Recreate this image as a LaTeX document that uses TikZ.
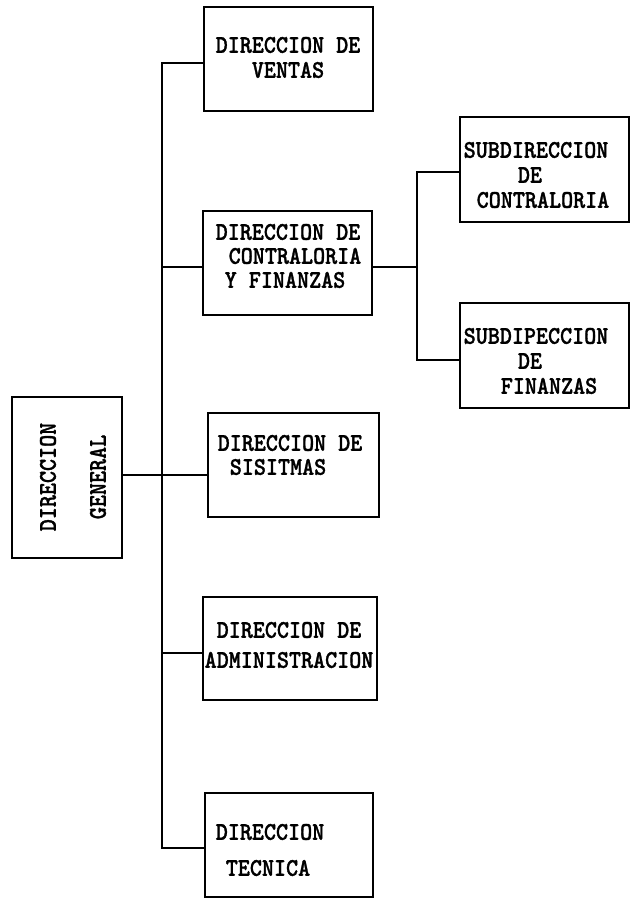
\documentclass[tikz,border=0pt]{standalone}
\usepackage{fontspec}
\newfontfamily\typefont[FakeStretch=0.9,FakeBold=1.2]{lmmonolt10-bold.otf}
\begin{document}
\begin{tikzpicture}[x=1pt,y=-1pt,
  box/.style={draw, line width=2.6pt, inner sep=0pt},
  wire/.style={line width=2.6pt, line join=miter},
  lbl/.style={font=\typefont\fontsize{25.5}{25.5}\selectfont, inner sep=0pt}]
\useasboundingbox (0,0) rectangle (630,899);

% boxes
\node[box, minimum width=169pt, minimum height=104pt] (ventas) at (288.5,59) {};
\node[box, minimum width=169pt, minimum height=104pt] (contraloria) at (287.5,263) {};
\node[box, minimum width=169pt, minimum height=105pt] (sub1) at (544.5,169.5) {};
\node[box, minimum width=169pt, minimum height=105pt] (sub2) at (544.5,355.5) {};
\node[box, minimum width=110pt, minimum height=161pt] (general) at (67,477.5) {};
\node[box, minimum width=171pt, minimum height=104pt] (sistemas) at (293.5,465) {};
\node[box, minimum width=174pt, minimum height=103pt] (admin) at (290,648.5) {};
\node[box, minimum width=168pt, minimum height=104pt] (tecnica) at (289,845) {};

% box texts
\node[lbl] (v1) at (288,45) {DIRECCION DE};
\node[lbl] (v2) at (288,70) {VENTAS};

\node[lbl] (c1) at (288,232) {DIRECCION DE};
\node[lbl] (c2) at (295,256) {CONTRALORIA};
\node[lbl] (c3) at (285,280) {Y FINANZAS};

\node[lbl] (s11) at (536,150) {SUBDIRECCION};
\node[lbl] (s12) at (530,175) {DE};
\node[lbl] (s13) at (543,200) {CONTRALORIA};

\node[lbl] (s21) at (536,336) {SUBDIPECCION};
\node[lbl] (s22) at (530,361) {DE};
\node[lbl] (s23) at (549,386) {FINANZAS};

\node[lbl, rotate=90] (g1) at (48,477) {DIRECCION};
\node[lbl, rotate=90] (g2) at (98,477) {GENERAL};

\node[lbl] (si1) at (290,443) {DIRECCION DE};
\node[lbl] (si2) at (278,467) {SISITMAS};

\node[lbl] (a1) at (289,630) {DIRECCION DE};
\node[lbl] (a2) at (289,660) {ADMINISTRACION};

\node[lbl] (t1) at (270,832) {DIRECCION};
\node[lbl] (t2) at (268,868) {TECNICA};

% trunk and branches
\coordinate (jv) at (162,63);
\coordinate (jc) at (162,267);
\coordinate (jg) at (162,475);
\coordinate (ja) at (162,653);
\coordinate (jt) at (162,848);
\draw[wire] (jt -| tecnica.west) -- (jt) -- (jv) -- (jv -| ventas.west);
\draw[wire] (jc) -- (jc -| contraloria.west);
\draw[wire] (ja) -- (ja -| admin.west);
\draw[wire] (jg -| general.east) -- (jg -| sistemas.west);

% sub-branch of contraloria
\coordinate (kc) at (417,267);
\coordinate (k1) at (417,172);
\coordinate (k2) at (417,360);
\draw[wire] (kc -| contraloria.east) -- (kc);
\draw[wire] (k1 -| sub1.west) -- (k1) -- (k2) -- (k2 -| sub2.west);
\end{tikzpicture}
\end{document}
